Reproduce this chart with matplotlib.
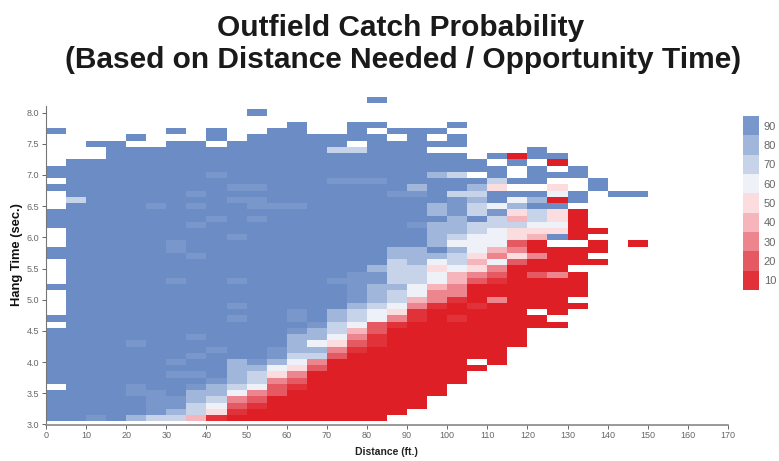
import matplotlib
matplotlib.use('Agg')
import matplotlib.pyplot as plt
import numpy as np
from matplotlib.colors import ListedColormap, BoundaryNorm

plt.rcParams['font.family'] = ['Liberation Sans', 'DejaVu Sans']

# one string per hang time row, top to bottom, one char per 5 ft bin
# . no data, B above 90, digits = tens of percent, R below 10
hang_times = [8.2 - 0.1 * i for i in range(52)]
distance_edges = list(range(0, 155, 5))
prob_rows = [
    "................B",
    "",
    "..........B",
    "",
    "............B..BB...B",
    "B.....B.B..BB..B.BBB",
    "....B...B.BBBBBBB.B.B",
    "..BB..BB.BBBBBB.BBBBB",
    "...BBBBBBBBBBB77BBB.....B",
    "...BBBBBBBBBBBBBBBBBB.BRBB",
    ".BBBBBBBBBBBBBBBBBBBBB.B.R",
    "BBBBBBBBBBBBBBBBBBBBBBB.B.B",
    "BBBBBBBB9BBBBBBBBBB87.B.BBB",
    ".BBBBBBBBBBBBB999BBBBB7BB..B",
    "BBBBBBBBB99BBBBBBB8BB85..5.B",
    ".BBBBBB9BBBBBBBBB99B77BBB6B.BB",
    ".7BBBBBBB99BBBBBBBBB98B68RB",
    ".BBBB9B9BB999BBBBBB89768BB",
    "BBBBBBBBBBBBBBBBBBB8979575R",
    "BBBBBBBB9B9BBBBBBBBB8B7475R",
    "BBBBBBB9BBBBBBBBBB98877766R",
    ".BBBBBBBBBBBBBBBBBB8876555RR",
    ".BBBBBBBB9BBBBBBBBB876654BR",
    ".BBBBB9BBBBBBBBBBBB86662R..R.R",
    "BBBBBB9BBBBBBBBBB88B8643RRRR",
    "BBBBBBB9BBBBBBBBB88875353RR",
    ".BBBBBBBBBBBBBBBB7867462RRRR",
    ".BBBBBBBBBBBBBBB8775653RRR",
    ".BBBBBBBBBBBBBB99776432R23R",
    ".BBBBB9BB9BBBB999776421RRRR",
    "BBBBBBBBBBBBBBB988643RRRRRR",
    ".BBBBBBBBBBBBBB987633RRRRRR",
    ".BBBBBBBBBBBBBB987431R3RRR",
    ".BBBBBBBB9BBBBB87631R1RRRRR",
    ".BBBBBBBBBBB9B87651RRRRR.R",
    "BBBBBBBBB9BB9B87631R1RRRR",
    ".BBBBBBBBBBBB97621RRRRRRRR",
    "BBBBBBBBBBBB98742RRRRRRR",
    "BBBBBBB9BBBB88631RRRRRRR",
    "BBBB9BBBBBBB86521RRRRRRR",
    "BBBBBBBB9BB98831RRRRRRR",
    "BBBBBBB9BBB9772RRRRRRRR",
    "BBBBBB9BB89863RRRRRRR.R",
    "BBBBBBBBB88652RRRRRRRR",
    "BBBBBB99B8753RRRRRRRR",
    "BBBBBBBB98732RRRRRRRR",
    ".BBB9BB987621RRRRRRR",
    "BBBB99B88632RRRRRRRR",
    "BBBBB998732RRRRRRRR",
    "BBBBB997621RRRRRRRR",
    "BBBBB98751RRRRRRRR",
    "BB9B87741RRRRRRRR",
]
char_values = {'.': np.nan, 'B': 95, 'R': 5, '1': 10, '2': 20, '3': 30, '4': 40,
               '5': 50, '6': 60, '7': 70, '8': 80, '9': 90}
legend_values = [90, 80, 70, 60, 50, 40, 30, 20, 10]

colors = ['#df1f26', '#e1323a', '#e55a62', '#ec858d', '#f5b5ba', '#fbdde0',
          '#eef2f8', '#c6d3e9', '#a0b6da', '#7a97cb', '#6b8cc5']
cmap = ListedColormap(colors)
norm = BoundaryNorm([0, 7.5, 15, 25, 35, 45, 55, 65, 75, 85, 92.5, 100], cmap.N)

grid = np.array([[char_values[c] for c in r.ljust(30, '.')] for r in prob_rows])
grid = np.ma.masked_invalid(grid)
y_edges = [round(t + 0.05, 2) for t in hang_times] + [round(hang_times[-1] - 0.05, 2)]

W, H = 779, 461
fig = plt.figure(figsize=(W / 100, H / 100), dpi=100)

# axes placed in pixels: 0-170 ft is 46-728, 3.0-8.25 s is 424.5-97
ax = fig.add_axes([46 / W, 1 - 424.5 / H, 682 / W, 327.5 / H])
ax.pcolormesh(distance_edges, y_edges, grid, cmap=cmap, norm=norm, linewidth=0)
ax.set_xlim(0, 170)
ax.set_ylim(3, 8.25)

for s in ['top', 'right']:
    ax.spines[s].set_visible(False)
ax.spines['left'].set_bounds(3, 8.1)
ax.spines['left'].set_color('#777777')
ax.spines['bottom'].set_color('#888888')
ax.spines['bottom'].set_linewidth(1.2)
ax.set_xticks(range(0, 171, 10))
ax.set_yticks(np.arange(3, 8.1, 0.5))
ax.set_yticklabels([f'{v:.1f}' for v in np.arange(3, 8.1, 0.5)])
ax.tick_params(axis='both', length=3, width=0.7, color='#666666', labelsize=6.5,
               labelcolor='#666666', pad=2)

fig.text(386 / W, 1 - 452 / H, 'Distance (ft.)', ha='center', va='center',
         fontsize=7.5, fontweight='bold', color='#222222')
fig.text(17 / W, 1 - 255 / H, 'Hang Time (sec.)', ha='center', va='center', rotation=90,
         fontsize=9.3, fontweight='bold', color='#111111')

fig.text(401 / W, 1 - 28 / H, 'Outfield Catch Probability', ha='center', va='center',
         fontsize=21.5, fontweight='bold', color='#1a1a1a')
fig.text(403.5 / W, 1 - 60 / H, '(Based on Distance Needed / Opportunity Time)', ha='center',
         va='center', fontsize=21.5, fontweight='bold', color='#1a1a1a')

# legend blocks
lax = fig.add_axes([743 / W, 1 - 290 / H, 16 / W, 174 / H])
lax.pcolormesh([0, 1], range(len(legend_values) + 1),
               np.array(legend_values[::-1]).reshape(-1, 1), cmap=cmap, norm=norm)
lax.set_xticks([])
lax.yaxis.tick_right()
lax.set_yticks(np.arange(len(legend_values)) + 0.5)
lax.set_yticklabels(legend_values[::-1])
lax.tick_params(axis='y', length=0, labelsize=8, labelcolor='#666666', pad=3.5)
for s in lax.spines.values():
    s.set_visible(False)

fig.savefig('out.png', dpi=100)
